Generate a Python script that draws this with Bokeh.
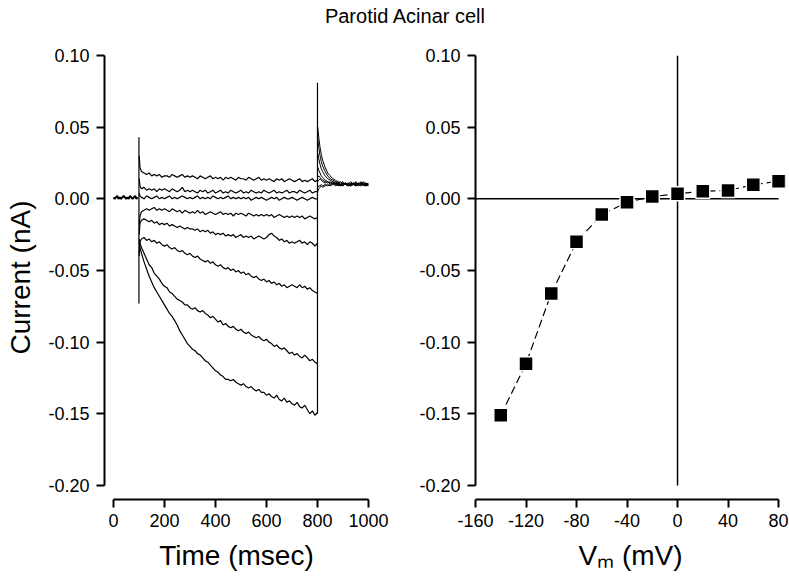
import numpy as np
from bokeh.plotting import figure
from bokeh.layouts import column, row
from bokeh.models import Label, FixedTicker, PrintfTickFormatter
from bokeh.embed import file_html
from bokeh.resources import INLINE

# ---------------- data ----------------
title_text = "Parotid Acinar cell"

time_ticks = [0, 200, 400, 600, 800, 1000]
vm_ticks = [-160, -120, -80, -40, 0, 40, 80]
current_ticks = [-0.20, -0.15, -0.10, -0.05, 0.00, 0.05, 0.10]

# holding baseline before the voltage step (pA)
pre_t = list(range(0, 100, 5))
pre_pA = [1, 0, 1, 2, 0, 1, 0, 1, 2, 1, 0, 1, 0, 2, 1, 0, 1, 2, 0, 1]

# during the step (pA), sampled at these times (ms)
step_t = [101, 104] + list(range(110, 801, 10))
sweep_1 = [30, 22,
           19, 18, 17, 18, 16, 17, 16, 17, 15, 16,
           16, 15, 17, 16, 15, 16, 17, 15, 16, 15,
           16, 15, 14, 16, 15, 14, 15, 16, 14, 15,
           14, 15, 13, 15, 14, 15, 14, 13, 15, 14,
           14, 13, 15, 14, 13, 14, 15, 13, 14, 13,
           14, 13, 12, 14, 13, 14, 12, 13, 14, 13,
           12, 13, 14, 12, 13, 12, 13, 14, 12, 13]
sweep_2 = [14, 9,
           7, 8, 6, 7, 6, 7, 5, 7, 6, 7,
           6, 5, 7, 6, 5, 6, 8, 5, 6, 5,
           6, 5, 4, 6, 5, 6, 4, 5, 6, 4,
           5, 6, 4, 5, 4, 6, 5, 4, 5, 6,
           4, 5, 4, 6, 5, 4, 5, 4, 6, 5,
           4, 5, 6, 4, 5, 4, 5, 6, 4, 5,
           5, 4, 6, 5, 4, 5, 6, 4, 5, 5]
sweep_3 = [4, 2,
           1, 0, 2, 1, 0, 1, 2, 0, 1, 0,
           1, 2, 0, 1, 0, 1, 2, 1, 0, 1,
           0, 1, 2, 0, 1, 0, 1, 0, 2, 1,
           0, 1, 0, 1, 2, 0, 1, 0, 1, 0,
           1, 0, 1, -1, 0, 1, 0, 1, 0, -1,
           0, 1, 0, 1, -1, 0, 1, 0, 0, 1,
           0, -1, 0, 1, 0, -1, 0, 1, 0, 0]
sweep_4 = [-18, -12,
           -9, -8, -7, -8, -7, -6, -8, -7, -8, -7,
           -8, -9, -7, -8, -9, -8, -10, -8, -9, -10,
           -9, -10, -8, -10, -9, -11, -10, -9, -10, -11,
           -10, -9, -11, -10, -11, -10, -12, -10, -11, -10,
           -11, -12, -10, -11, -12, -11, -12, -11, -12, -11,
           -12, -11, -13, -12, -11, -12, -13, -12, -13, -12,
           -13, -12, -13, -12, -14, -13, -12, -13, -14, -13]
sweep_5 = [-25, -17,
           -15, -14, -15, -16, -15, -17, -16, -18, -17, -18,
           -17, -19, -18, -19, -20, -19, -20, -21, -20, -21,
           -21, -22, -21, -23, -22, -23, -22, -24, -23, -25,
           -24, -25, -24, -26, -25, -26, -25, -27, -26, -25,
           -27, -26, -27, -26, -28, -27, -26, -27, -28, -27,
           -25, -24, -26, -27, -29, -28, -30, -29, -31, -30,
           -31, -30, -29, -31, -30, -32, -30, -31, -33, -31]
sweep_6 = [-40, -30,
           -28, -27, -29, -28, -30, -29, -31, -30, -32, -33,
           -32, -34, -35, -34, -36, -37, -36, -38, -39, -38,
           -40, -41, -40, -42, -43, -44, -43, -45, -44, -46,
           -47, -46, -48, -49, -48, -50, -49, -51, -50, -52,
           -51, -53, -52, -54, -55, -54, -56, -57, -56, -58,
           -57, -59, -58, -60, -59, -61, -60, -62, -61, -60,
           -61, -62, -60, -62, -61, -63, -62, -64, -65, -66]
sweep_7 = [-28, -31,
           -34, -38, -42, -46, -48, -52, -54, -56, -59, -61,
           -62, -65, -66, -68, -70, -71, -72, -74, -74, -76,
           -77, -76, -78, -79, -78, -80, -81, -83, -82, -84,
           -86, -85, -88, -87, -89, -90, -89, -91, -92, -91,
           -93, -94, -93, -95, -96, -97, -96, -98, -99, -98,
           -100, -101, -103, -102, -104, -105, -104, -106, -108, -107,
           -109, -108, -110, -111, -109, -111, -113, -112, -114, -115]
sweep_8 = [-30, -34,
           -38, -44, -49, -54, -58, -62, -65, -68, -71, -74,
           -77, -80, -82, -85, -88, -92, -95, -98, -101, -103,
           -105, -106, -108, -109, -111, -113, -114, -116, -118, -120,
           -121, -123, -124, -126, -126, -127, -126, -128, -129, -130,
           -129, -131, -132, -131, -133, -134, -133, -135, -135, -137,
           -136, -138, -139, -137, -140, -141, -139, -142, -141, -143,
           -144, -142, -145, -146, -144, -147, -150, -148, -151, -149]

# tail currents after the step (pA)
tail_t = [801, 805, 810, 815, 820] + list(range(830, 1001, 10))
tail_1 = [12, 13, 14, 13, 12, 11, 12, 10, 11, 10, 11, 9, 10, 11, 9, 10, 11, 10, 9, 10, 11, 9, 10]
tail_2 = [8, 9, 9, 10, 9, 10, 9, 10, 11, 9, 10, 10, 9, 11, 10, 9, 10, 11, 10, 9, 10, 11, 10]
tail_3 = [5, 7, 8, 9, 8, 9, 10, 9, 10, 11, 9, 10, 11, 10, 9, 10, 11, 9, 10, 11, 10, 9, 10]
tail_4 = [15, 16, 15, 14, 13, 12, 11, 12, 10, 11, 10, 9, 11, 10, 11, 9, 10, 11, 10, 12, 10, 9, 11]
tail_5 = [22, 20, 18, 16, 15, 13, 12, 11, 12, 10, 11, 10, 9, 11, 10, 12, 10, 9, 11, 10, 11, 10, 9]
tail_6 = [32, 28, 24, 21, 19, 16, 14, 13, 12, 11, 12, 10, 11, 10, 9, 11, 10, 12, 10, 11, 9, 10, 11]
tail_7 = [42, 36, 30, 26, 23, 19, 16, 14, 13, 12, 11, 12, 10, 11, 10, 9, 11, 10, 11, 10, 12, 10, 9]
tail_8 = [50, 43, 36, 31, 27, 22, 18, 16, 14, 13, 12, 11, 12, 10, 11, 10, 11, 9, 10, 11, 10, 11, 10]

# capacitive transients at step on / off (pA)
spike_t = [100, 800]
spike_low_pA = [-73, -150]
spike_high_pA = [43, 81]

# I-V relation
vm_mV = [-140, -120, -100, -80, -60, -40, -20, 0, 20, 40, 60, 80]
iv_nA = [-0.151, -0.115, -0.066, -0.030, -0.011, -0.0024, 0.0016, 0.0035, 0.0053, 0.0058, 0.0098, 0.0123]

# ---------------- style ----------------
FONT = "Liberation Sans"
Y_RANGE = (-0.2098, 0.10)


def pA(v):
    return np.array(v, dtype=float) / 1000.0


def style(p):
    p.grid.visible = False
    p.outline_line_color = None
    p.background_fill_color = "white"
    p.border_fill_color = "white"
    for ax in p.xaxis + p.yaxis:
        ax.axis_line_color = "black"
        ax.axis_line_width = 2
        ax.major_tick_line_color = "black"
        ax.major_tick_line_width = 2
        ax.major_tick_out = 8
        ax.major_tick_in = 0
        ax.minor_tick_line_color = None
        ax.major_label_text_font = FONT
        ax.major_label_text_font_size = "18px"
        ax.major_label_text_color = "black"
        ax.axis_label_text_font = FONT
        ax.axis_label_text_font_size = "28px"
        ax.axis_label_text_font_style = "normal"
        ax.axis_label_text_color = "black"
    p.yaxis.major_label_standoff = 7
    p.xaxis.major_label_standoff = 6
    p.xaxis.axis_label_standoff = 10
    p.xaxis.formatter = PrintfTickFormatter(format="%d")
    p.yaxis.ticker = FixedTicker(ticks=current_ticks)
    p.yaxis.formatter = PrintfTickFormatter(format="%.2f")
    p.yaxis.bounds = (current_ticks[0], current_ticks[-1])


# title strip
pt = figure(width=789, height=40, x_range=(0, 789), y_range=(0, 40),
            x_axis_type=None, y_axis_type=None, min_border=0,
            toolbar_location=None, output_backend="svg")
pt.outline_line_color = None
pt.grid.visible = False
pt.add_layout(Label(x=405, y=25, text=title_text, text_align="center",
                    text_baseline="middle", text_font=FONT,
                    text_font_size="20px", text_color="black"))

# left: current traces
p1 = figure(frame_width=264, frame_height=444, x_range=(-35, 1000), y_range=Y_RANGE,
            min_border_left=104, min_border_right=48, min_border_top=15, min_border_bottom=69,
            toolbar_location=None, output_backend="svg")
style(p1)
p1.xaxis.ticker = FixedTicker(ticks=time_ticks)
p1.xaxis.bounds = (time_ticks[0], time_ticks[-1])
p1.xaxis.axis_label = "Time (msec)"
p1.yaxis.axis_label = "Current (nA)"
p1.yaxis.axis_label_standoff = 9

p1.line(pre_t, pA(pre_pA), line_color="black", line_width=2)
sweeps = [sweep_1, sweep_2, sweep_3, sweep_4, sweep_5, sweep_6, sweep_7, sweep_8]
tails = [tail_1, tail_2, tail_3, tail_4, tail_5, tail_6, tail_7, tail_8]
for s in sweeps:
    p1.line(step_t, pA(s), line_color="black", line_width=1.2)
for tl in tails:
    p1.line(tail_t, pA(tl), line_color="black", line_width=1.0)
p1.segment(x0=spike_t, y0=pA(spike_low_pA), x1=spike_t, y1=pA(spike_high_pA),
           line_color="black", line_width=1.2)

# right: I-V curve
p2 = figure(frame_width=310, frame_height=444, x_range=(-160, 85.5), y_range=Y_RANGE,
            min_border_left=58, min_border_right=5, min_border_top=15, min_border_bottom=69,
            toolbar_location=None, output_backend="svg")
style(p2)
p2.xaxis.ticker = FixedTicker(ticks=vm_ticks)
p2.xaxis.bounds = (vm_ticks[0], vm_ticks[-1])
p2.xaxis.axis_label = "V\u2098 (mV)"

p2.segment(x0=[vm_ticks[0], 0], y0=[0, current_ticks[0]],
           x1=[vm_ticks[-1], 0], y1=[0, current_ticks[-1]],
           line_color="black", line_width=1.5)
p2.line(vm_mV, iv_nA, line_color="black", line_width=1.2, line_dash="8 4")
p2.scatter(vm_mV, iv_nA, marker="square", size=14, fill_color="black",
           line_color="white", line_width=1.5)

layout = column(pt, row(p1, p2))
open("out.html", "w").write(file_html(layout, INLINE))
